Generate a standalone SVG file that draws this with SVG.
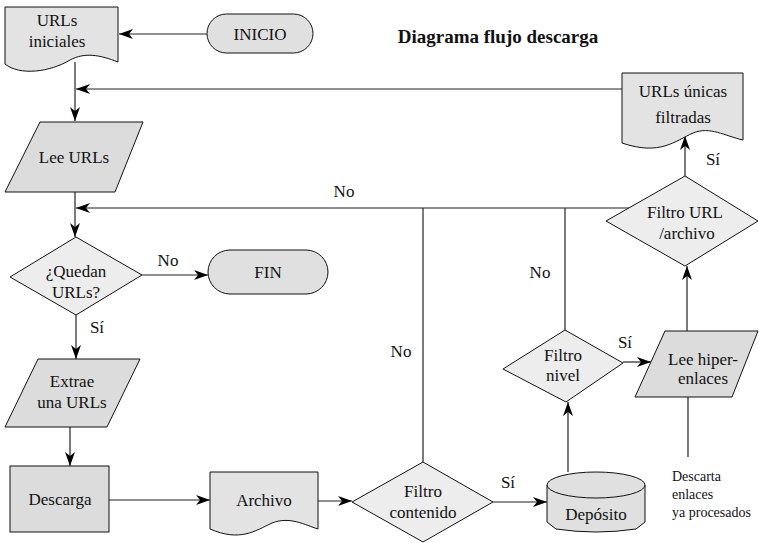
<svg xmlns="http://www.w3.org/2000/svg" width="759" height="543" viewBox="0 0 759 543">
<defs>
<marker id="arr" viewBox="0 0 14 10" refX="14" refY="5" markerWidth="14" markerHeight="10" orient="auto" markerUnits="userSpaceOnUse"><path d="M0,0 L14,5 L0,10 L4,5 Z" fill="#000"/></marker>
<style>
.s{stroke:#111;stroke-width:1;}
.doc{fill:#e3e3e3;}
.par{fill:#dcdcdc;}
.dia{fill:#ededed;}
.pill{fill:#e0e0e0;}
.t{font-family:"Liberation Serif","DejaVu Serif",serif;font-size:17px;fill:#111;text-anchor:middle;}
.sm{font-family:"Liberation Serif","DejaVu Serif",serif;font-size:14px;fill:#111;}
.c{fill:none;stroke:#222;stroke-width:1.2;}
</style>
</defs>
<rect width="759" height="543" fill="#fff"/>
<text x="498" y="43" font-family="Liberation Serif, DejaVu Serif, serif" font-size="19" font-weight="bold" text-anchor="middle" fill="#111">Diagrama flujo descarga</text>

<g id="connectors">
<path class="c" d="M207,34 H119" marker-end="url(#arr)"/>
<path class="c" d="M75,62 V121" marker-end="url(#arr)"/>
<path class="c" d="M622,89 H76" marker-end="url(#arr)"/>
<path class="c" d="M75,192 V237" marker-end="url(#arr)"/>
<path class="c" d="M629,208 H76" marker-end="url(#arr)"/>
<path class="c" d="M142,275 H208" marker-end="url(#arr)"/>
<path class="c" d="M76,315 V359" marker-end="url(#arr)"/>
<path class="c" d="M70,427 V466" marker-end="url(#arr)"/>
<path class="c" d="M109,500 H210" marker-end="url(#arr)"/>
<path class="c" d="M318,501 H352" marker-end="url(#arr)"/>
<path class="c" d="M423,462 V208"/>
<path class="c" d="M493,502 H547" marker-end="url(#arr)"/>
<path class="c" d="M568,472 V402" marker-end="url(#arr)"/>
<path class="c" d="M565,330 V208"/>
<path class="c" d="M623,362 H651" marker-end="url(#arr)"/>
<path class="c" d="M687,331 V266" marker-end="url(#arr)"/>
<path class="c" d="M688,397 V457"/>
<path class="c" d="M685,176 V136" marker-end="url(#arr)"/>
<text class="t" x="168" y="266">No</text>
<text class="t" x="97" y="333">Sí</text>
<text class="t" x="344" y="197">No</text>
<text class="t" x="401" y="357">No</text>
<text class="t" x="540" y="278">No</text>
<text class="t" x="508" y="488">Sí</text>
<text class="t" x="625" y="348">Sí</text>
<text class="t" x="713" y="165">Sí</text>
</g>

<g id="urls-iniciales">
<path class="s doc" d="M5,7 H118 V62 C100,55 85,52 70,60 C50,72 20,76 5,64 Z"/>
<text class="t" x="57" y="26">URLs</text>
<text class="t" x="57" y="47">iniciales</text>
</g>

<g id="inicio">
<rect class="s pill" x="207" y="14" width="106" height="39" rx="19.5"/>
<text class="t" x="260" y="40">INICIO</text>
</g>

<g id="lee-urls">
<polygon class="s par" points="40,122 143,122 115,192 5,192"/>
<text class="t" x="74" y="163">Lee URLs</text>
</g>

<g id="quedan-urls">
<polygon class="s dia" points="76,237 142,275 76,315 10,277"/>
<text class="t" x="76" y="277">¿Quedan</text>
<text class="t" x="76" y="298">URLs?</text>
</g>

<g id="fin">
<rect class="s pill" x="208" y="250" width="120" height="44" rx="22"/>
<text class="t" x="268" y="278">FIN</text>
</g>

<g id="extrae">
<polygon class="s par" points="38,359 140,359 107,427 5,427"/>
<text class="t" x="72" y="387">Extrae</text>
<text class="t" x="72" y="408">una URLs</text>
</g>

<g id="descarga">
<rect class="s par" x="10" y="466" width="99" height="66"/>
<text class="t" x="60" y="505">Descarga</text>
</g>

<g id="archivo">
<path class="s doc" d="M210,472 H318 V529 C305,525 290,516 272,523 C255,531 240,542 210,529 Z"/>
<text class="t" x="264" y="506">Archivo</text>
</g>

<g id="filtro-contenido">
<polygon class="s dia" points="423,462 493,502 423,542 352,502"/>
<text class="t" x="423" y="497">Filtro</text>
<text class="t" x="423" y="518">contenido</text>
</g>

<g id="deposito">
<path class="s pill" d="M547,485 L547,522 L556,529 Q596,535 636,529 L645,522 L645,485 Z"/>
<ellipse class="s pill" cx="596" cy="485" rx="49" ry="13"/>
<text class="t" x="596" y="520">Depósito</text>
</g>

<g id="filtro-nivel">
<polygon class="s dia" points="565,330 623,363 566,402 503,369"/>
<text class="t" x="563" y="361">Filtro</text>
<text class="t" x="563" y="381">nivel</text>
</g>

<g id="lee-hiperenlaces">
<polygon class="s par" points="665,331 758,331 732,397 635,397"/>
<text class="t" x="703" y="365">Lee hiper-</text>
<text class="t" x="703" y="384">enlaces</text>
</g>

<g id="filtro-url">
<polygon class="s dia" points="685,176 758,221 685,266 606,221"/>
<text class="t" x="685" y="218">Filtro URL</text>
<text class="t" x="687" y="239">/archivo</text>
</g>

<g id="urls-unicas">
<path class="s doc" d="M622,73 H743 V140 C725,136 710,126 693,133 C675,141 660,156 622,143 Z"/>
<text class="t" x="683" y="97">URLs únicas</text>
<text class="t" x="683" y="123">filtradas</text>
</g>

<g id="descarta">
<text class="sm" x="672" y="481">Descarta</text>
<text class="sm" x="672" y="499">enlaces</text>
<text class="sm" x="672" y="517">ya procesados</text>
</g>
</svg>
